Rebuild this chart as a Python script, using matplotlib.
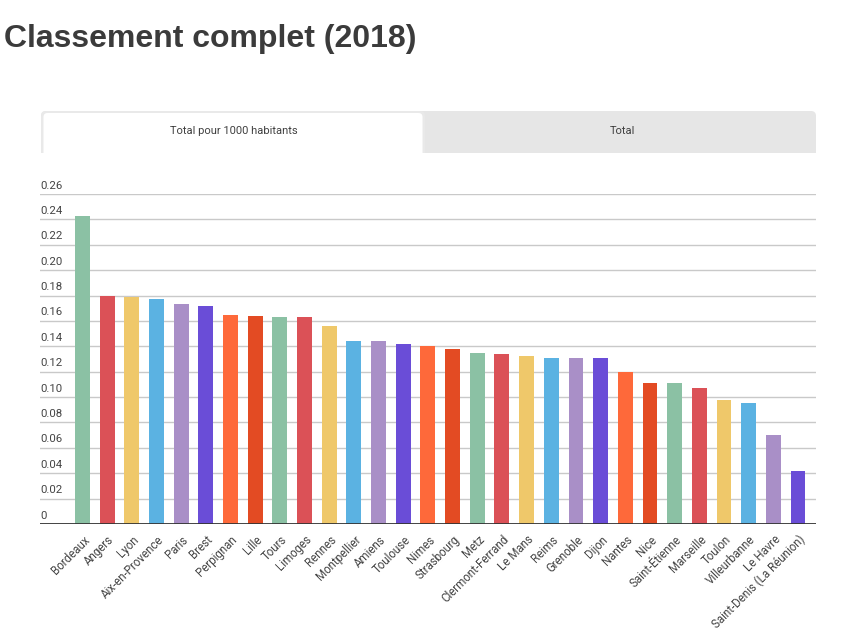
import matplotlib.pyplot as plt
from matplotlib.patches import FancyBboxPatch, Rectangle
from matplotlib.transforms import ScaledTranslation

cities = ['Bordeaux', 'Angers', 'Lyon', 'Aix-en-Provence', 'Paris', 'Brest', 'Perpignan',
          'Lille', 'Tours', 'Limoges', 'Rennes', 'Montpellier', 'Amiens', 'Toulouse', 'Nimes',
          'Strasbourg', 'Metz', 'Clermont-Ferrand', 'Le Mans', 'Reims', 'Grenoble', 'Dijon',
          'Nantes', 'Nice', 'Saint-Étienne', 'Marseille', 'Toulon', 'Villeurbanne', 'Le Havre',
          'Saint-Denis (La Réunion)']
values = [0.243, 0.180, 0.179, 0.177, 0.173, 0.172, 0.165, 0.164, 0.163, 0.163,
          0.156, 0.144, 0.144, 0.142, 0.140, 0.138, 0.135, 0.134, 0.132, 0.131,
          0.131, 0.131, 0.120, 0.111, 0.111, 0.107, 0.098, 0.095, 0.070, 0.042]
palette = ['#8bc1a4', '#db5157', '#efc86a', '#5bb2e2', '#a98fc7', '#6a4dd7', '#fe693a', '#e34b23']
y_ticks = [0, 0.02, 0.04, 0.06, 0.08, 0.10, 0.12, 0.14, 0.16, 0.18, 0.20, 0.22, 0.24, 0.26]
tabs = ['Total pour 1000 habitants', 'Total']

W, H = 860, 640
fig = plt.figure(figsize=(W / 100, H / 100), dpi=100)
fig.patch.set_facecolor('white')

# chart area in pixel coordinates
left, right, top, base = 40, 816, 194, 524
ax = fig.add_axes([left / W, (H - base) / H, (right - left) / W, (base - top) / H])
colors = [palette[i % len(palette)] for i in range(len(cities))]
ax.bar(range(len(cities)), values, width=0.6, color=colors, zorder=2)
ax.set_xlim(-1.72, len(cities) - 0.27)
ax.set_ylim(0, 0.26)
for s in ax.spines.values():
    s.set_visible(False)
ax.set_yticks(y_ticks)
ax.yaxis.grid(True, color='#c9c9c9', lw=1)
ax.set_axisbelow(True)
ax.tick_params(axis='y', length=0, labelleft=False)
for t in y_ticks:
    lbl = '0' if t == 0 else f'{t:.2f}'
    ax.annotate(lbl, (0, t), xycoords=ax.get_yaxis_transform(), xytext=(0.5, 2.5),
                textcoords='offset points', ha='left', va='bottom',
                fontsize=8.2, color='#444444', family='Roboto')
ax.axhline(0, color='#333333', lw=2, zorder=3)
ax.set_xticks(range(len(cities)))
ax.set_xticklabels(cities, rotation=45, ha='right', va='center', rotation_mode='anchor',
                   fontsize=8.3, color='#444444', family='Roboto')
ax.tick_params(axis='x', length=0, pad=7)
shift = ScaledTranslation(5 / 100, -4 / 100, fig.dpi_scale_trans)
for lab in ax.get_xticklabels():
    lab.set_transform(lab.get_transform() + shift)

# overlay for title and tabs
ov = fig.add_axes([0, 0, 1, 1], zorder=-1)
ov.set_xlim(0, W)
ov.set_ylim(H, 0)
ov.axis('off')
ov.text(4, 39, 'Classement complet (2018)', fontsize=23, fontweight='bold',
        family='Liberation Sans', color='#3b3b3b', va='center', ha='left')
ov.add_patch(FancyBboxPatch((41, 111), 775, 50, boxstyle='round,pad=0,rounding_size=5',
                            fc='#e6e6e6', ec='none'))
ov.add_patch(FancyBboxPatch((41, 111), 384, 50, boxstyle='round,pad=0,rounding_size=5',
                            fc='#e9e9e9', ec='none'))
ov.add_patch(FancyBboxPatch((43.5, 113), 379, 50, boxstyle='round,pad=0,rounding_size=4',
                            fc='white', ec='none'))
ov.add_patch(Rectangle((0, 153), W, 30, fc='white', ec='none'))
ov.text(234, 131, tabs[0], fontsize=8, family='Roboto', color='#3f3f3f', ha='center', va='center')
ov.text(622, 131, tabs[1], fontsize=8, family='Roboto', color='#3f3f3f', ha='center', va='center')

fig.savefig('out.png', dpi=100, facecolor='white')
